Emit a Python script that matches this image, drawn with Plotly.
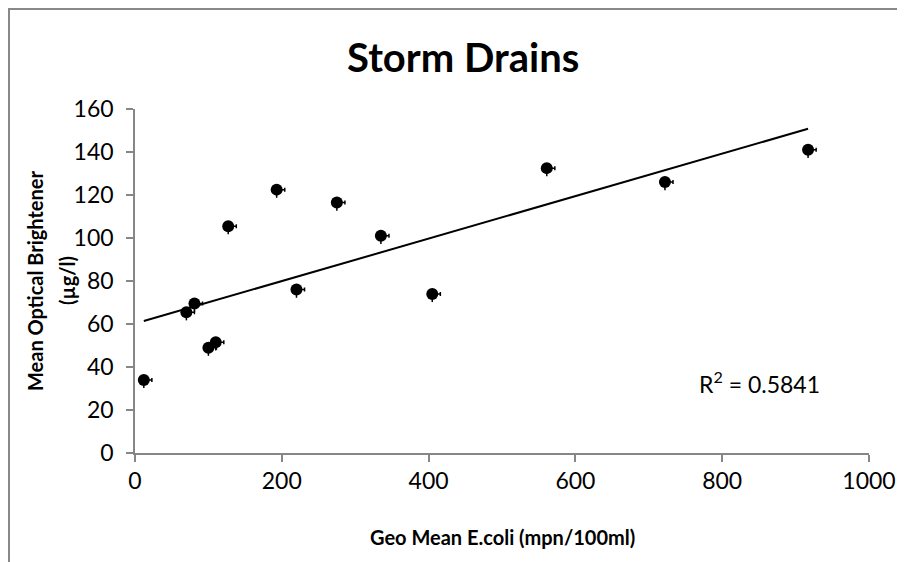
import plotly.graph_objects as go

# Data
ecoli_geo_mean = [12, 70, 81, 100, 110, 127, 193, 220, 275, 335, 405, 561, 722, 917]
optical_brightener = [34, 65.5, 69.5, 49, 51.5, 105.5, 122.5, 76, 116.5, 101, 74, 132.5, 126, 141]
trend_slope = 0.0988
trend_intercept = 60.2
r_squared_label = "0.5841"
x_ticks = [0, 200, 400, 600, 800, 1000]
y_ticks = [0, 20, 40, 60, 80, 100, 120, 140, 160]

FONT = "Lato, Calibri, 'Open Sans', sans-serif"
AXIS_GRAY = "#868686"

# page body has an 8px margin: figure px = screen px - 8
OFF = 8
PL, PR, PT, PB = 135, 869, 109, 453   # plot area in screen px
PW, PH = PR - PL, PB - PT


def px(sx):
    return (sx - PL) / PW


def py(sy):
    return (PB - sy) / PH


fig = go.Figure()

n = len(ecoli_geo_mean)
fig.add_trace(go.Scatter(
    x=ecoli_geo_mean,
    y=optical_brightener,
    mode="markers",
    marker=dict(symbol="circle", size=12, color="black"),
    error_x=dict(type="data", symmetric=False,
                 array=[11] * n, arrayminus=[0] * n,
                 color="black", thickness=1.5, width=2),
    error_y=dict(type="data", symmetric=False,
                 array=[0] * n, arrayminus=[3.8] * n,
                 color="black", thickness=1.5, width=0),
    showlegend=False,
    hoverinfo="x+y",
))

tx = [min(ecoli_geo_mean), max(ecoli_geo_mean)]
ty = [trend_intercept + trend_slope * v for v in tx]
fig.add_trace(go.Scatter(
    x=tx, y=ty, mode="lines",
    line=dict(color="black", width=2),
    showlegend=False, hoverinfo="skip",
))

fig.update_layout(
    width=905, height=562,
    margin=dict(l=PL - OFF, r=905 - (PR - OFF), t=PT - OFF, b=562 - (PB - OFF), pad=0),
    paper_bgcolor="white",
    plot_bgcolor="white",
    font=dict(family=FONT, color="black"),
    title=dict(text="<b>Storm Drains</b>", x=0.503, xanchor="center",
               y=1 - (58 - OFF) / 562, yanchor="middle",
               font=dict(family=FONT, size=40, color="black")),
    xaxis=dict(
        range=[0, 1000], tickvals=x_ticks, ticktext=[str(v) for v in x_ticks],
        showgrid=False, zeroline=False,
        showline=True, linecolor=AXIS_GRAY, linewidth=1.5,
        ticks="outside", ticklen=7, tickcolor=AXIS_GRAY, tickwidth=1.5,
        tickfont=dict(family=FONT, size=23, color="black"),
        fixedrange=True,
    ),
    yaxis=dict(
        range=[0, 160], tickvals=y_ticks, ticktext=[str(v) for v in y_ticks],
        showgrid=False, zeroline=False,
        showline=True, linecolor=AXIS_GRAY, linewidth=1.5,
        ticks="outside", ticklen=7, tickcolor=AXIS_GRAY, tickwidth=1.5,
        ticklabelstandoff=8,
        tickfont=dict(family=FONT, size=23, color="black"),
        fixedrange=True,
    ),
    annotations=[
        dict(text="<b>Geo Mean E.coli (mpn/100ml)</b>", xref="paper", yref="paper",
             x=px(502), y=py(537), xanchor="center", yanchor="middle",
             showarrow=False, font=dict(family=FONT, size=20, color="black")),
        dict(text="<b>Mean Optical Brightener</b>", xref="paper", yref="paper",
             x=px(35), y=py(281), xanchor="center", yanchor="middle",
             textangle=-90, showarrow=False,
             font=dict(family=FONT, size=20, color="black")),
        dict(text="<b>(µg/l)</b>", xref="paper", yref="paper",
             x=px(67), y=py(281), xanchor="center", yanchor="middle",
             textangle=-90, showarrow=False,
             font=dict(family=FONT, size=20, color="black")),
        dict(text="R<sup>2</sup> = " + r_squared_label, xref="paper", yref="paper",
             x=px(759), y=py(382), xanchor="center", yanchor="middle",
             showarrow=False, font=dict(family=FONT, size=23, color="black")),
    ],
    shapes=[
        dict(type="rect", xref="paper", yref="paper",
             x0=px(9), x1=2.0, y0=-1.0, y1=py(9),
             line=dict(color="#888888", width=2), fillcolor="rgba(0,0,0,0)",
             layer="below"),
    ],
)

fig.write_html("out.html")
